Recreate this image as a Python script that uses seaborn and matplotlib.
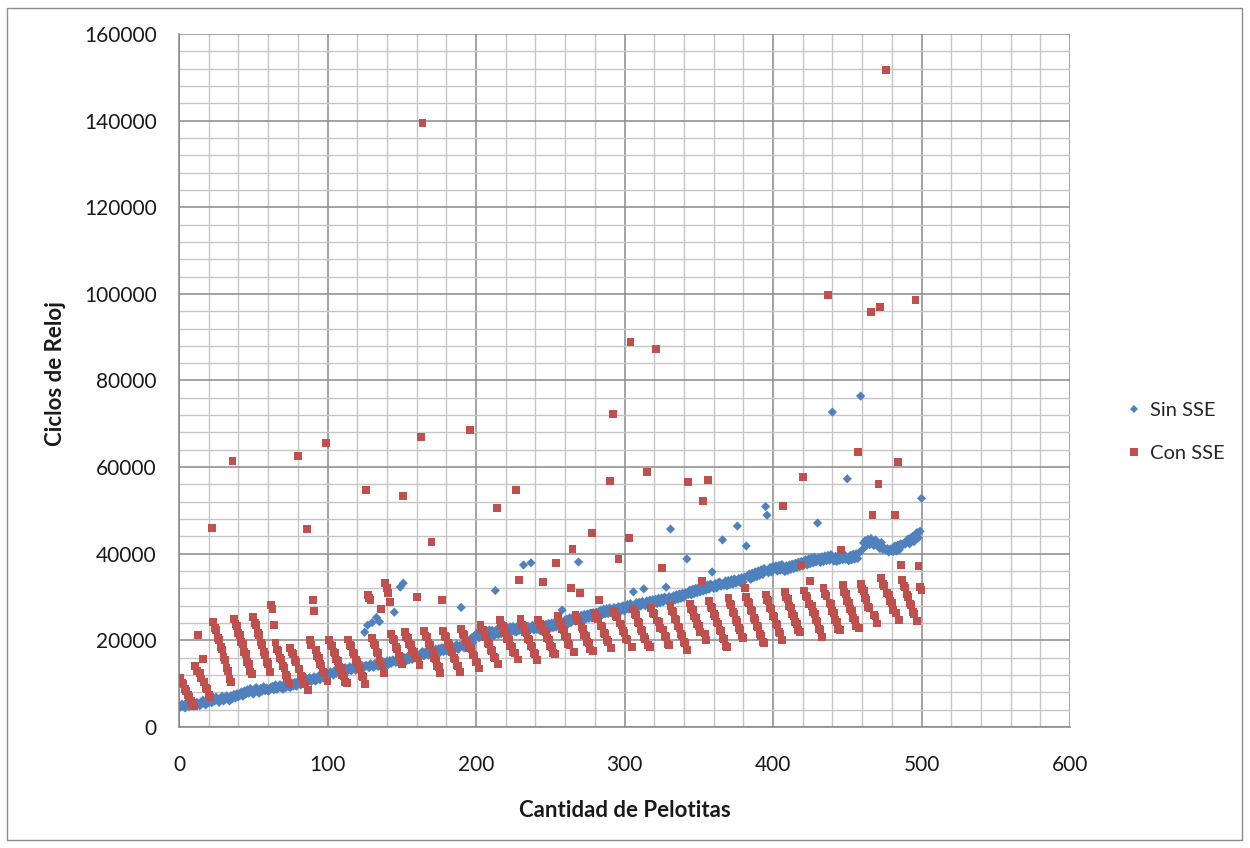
import numpy as np
import pandas as pd
import matplotlib
matplotlib.use("Agg")
import matplotlib.pyplot as plt
from matplotlib.ticker import MultipleLocator, FuncFormatter
from matplotlib.patches import Rectangle
from matplotlib.lines import Line2D
import seaborn as sns

# Número de pelotitas (1..500) y ciclos de reloj medidos para cada implementación
pelotitas = np.arange(1, 501)

sin_sse = [
    4600, 5300, 4900, 4400, 5600, 5000, 4700, 5500, 5900, 4800, 5100, 5700, 5300, 4900, 5800, 6200, 5400, 5100, 6300, 5600,
    6400, 5600, 6500, 6000, 6900, 6200, 5700, 6600, 7100, 6000, 6400, 7200, 6500, 6000, 7200, 6600, 7500, 6700, 7700, 7000,
    7300, 8100, 7100, 8300, 7600, 8600, 7800, 8900, 8100, 7600, 8700, 9100, 8100, 7800, 8900, 8300, 9300, 8400, 9000, 8300,
    8500, 9200, 9400, 8600, 9700, 8700, 9200, 9800, 9000, 8700, 9900, 9100, 10100, 9300, 9100, 10200, 9500, 10300, 9400, 10500,
    10300, 9700, 10700, 11000, 10100, 11200, 10400, 11400, 10500, 11000, 11600, 10600, 11300, 11800, 10900, 11600, 12000, 11100, 11800, 12200,
    12000, 12700, 12400, 12000, 13100, 12400, 13300, 12600, 13500, 12600, 13100, 13700, 12800, 13500, 13900, 13000, 13800, 14000, 13100, 14100,
    13600, 13200, 14300, 13500, 21900, 14300, 23500, 13700, 14600, 24100, 13800, 14700, 25300, 14000, 24300, 14900, 14100, 15000, 14200, 15200,
    14400, 15300, 14700, 15500, 26500, 14900, 15800, 14800, 32300, 15900, 33200, 16000, 15200, 16300, 15500, 16500, 15600, 16700, 15900, 16800,
    16300, 16000, 17100, 17400, 16400, 17300, 17600, 16600, 17700, 16900, 17800, 16800, 18000, 17100, 18100, 17300, 18300, 17400, 18400, 17600,
    18200, 17300, 18500, 18700, 17700, 18600, 19000, 17900, 18800, 27600, 19200, 18300, 19500, 19800, 18800, 20000, 20600, 19600, 21000, 21400,
    21700, 20600, 22000, 20900, 22200, 21100, 20800, 22100, 22400, 21200, 22300, 21000, 31500, 22500, 21300, 22600, 21500, 22800, 21700, 22700,
    22900, 21800, 23100, 22000, 23200, 22100, 21900, 23300, 22300, 23400, 22200, 37400, 23200, 22000, 23300, 22300, 37900, 23500, 22400, 23400,
    22500, 23600, 22300, 23800, 22700, 22400, 23700, 22600, 23900, 22800, 24000, 22900, 24200, 23100, 24300, 23200, 24500, 27000, 23500, 24700,
    24900, 23800, 25200, 24100, 25300, 25500, 24400, 25600, 38100, 24600, 25800, 24700, 26000, 24900, 26100, 25100, 26300, 25200, 26400, 25400,
    26500, 25500, 26700, 27000, 25900, 27200, 26100, 27300, 26200, 27500, 26400, 26100, 27600, 26500, 27400, 27800, 26600, 27700, 28000, 26800,
    28000, 28300, 27200, 28500, 27500, 31200, 27700, 28700, 27600, 28800, 27900, 29000, 31900, 28000, 29100, 28200, 29300, 28300, 29400, 28500,
    29500, 28500, 29700, 28700, 29800, 28900, 30000, 32300, 29000, 30100, 45700, 29200, 30300, 29300, 30500, 29500, 30700, 29700, 30900, 29900,
    31000, 38800, 30600, 31600, 30500, 31800, 30800, 32000, 31000, 32200, 31200, 32400, 31400, 32600, 31600, 32800, 31800, 33000, 35800, 32000,
    33100, 32100, 33300, 33500, 32500, 43200, 32700, 33700, 32600, 33800, 32900, 34000, 33000, 34200, 33200, 46400, 34300, 33300, 34500, 33500,
    34600, 41800, 34900, 35300, 34100, 35500, 34500, 35800, 34700, 36000, 35000, 36300, 35200, 36600, 50900, 48900, 35600, 36800, 35800, 37100,
    36800, 37200, 36000, 37300, 36200, 37500, 36300, 35900, 37200, 36100, 37400, 36400, 37600, 36600, 37800, 36800, 38000, 37000, 38200, 37200,
    38300, 38600, 37400, 38800, 37700, 39000, 37900, 39200, 38100, 47100, 39100, 38000, 39300, 38200, 39500, 38400, 39600, 38500, 39800, 72700,
    38300, 39400, 38200, 39600, 38500, 39700, 38600, 39800, 38700, 57300, 38400, 39600, 38600, 39900, 38800, 40000, 38900, 40200, 76400, 40900,
    42500, 43000, 41900, 43300, 42100, 43500, 42300, 41900, 43200, 42000, 42400, 41200, 42600, 41000, 41300, 40900, 41200, 40400, 41100, 40700,
    40500, 41800, 40600, 42000, 40900, 42300, 41900, 42400, 42200, 42800, 43400, 42300, 43700, 44000, 42800, 44400, 44900, 43700, 45200, 52800,
]

con_sse = [
    11300, 10200, 9900, 8800, 8300, 7300, 6900, 6000, 5600, 4900,
    14000, 12900, 21200, 12500, 11200, 15700, 10400, 9100, 8800, 7400, 6900,
    45900,
    24200, 22800, 22300, 20600, 20100, 18400, 17900, 16100, 15500, 13700, 13000, 11100, 10400,
    61400,
    25000, 23800, 23400, 21700, 21300, 19600, 19100, 17400, 16800, 15000, 14500, 12800, 12300,
    25400, 24000, 23500, 21700, 21200, 19500, 19000, 17300, 16700, 15000, 14500, 12700,
    28200, 27300, 23600, 19500, 17900, 17600, 16000, 15600, 14000, 13600, 12000, 11600, 10000,
    18300, 17200, 16900, 15400, 15100, 62600, 13300, 11800, 11500, 10000, 9800, 45700, 8500,
    20100, 18900, 29300, 26700, 17800, 16300, 16000, 14500, 14200, 12700, 12400, 65600, 10500,
    20100, 19000, 18800, 17300, 17100, 15600, 15300, 13900, 13600, 12100, 11800, 10400, 10100,
    20200, 19000, 18700, 17200, 16900, 15400, 15100, 13600, 13300, 11800, 11500, 10000,
    54700, 30500, 29700, 29300, 20600, 19300, 19000, 17300, 17000, 15300, 27200, 14100, 12500,
    33200, 32000, 30900, 28900, 21500, 20300, 20000, 18400, 18100, 16500, 16200, 14600, 53300,
    21900, 20800, 20600, 19200, 19000, 17600, 17400, 16000, 30000, 15800, 14400, 67000, 139500,
    22100, 21000, 20700, 19300, 19000, 42800, 17300, 15800, 15600, 14100, 13900, 12500, 29300,
    22100, 21000, 20700, 19300, 19000, 17600, 17300, 15900, 15600, 14200, 14000, 12600,
    22600, 21500, 21300, 19900, 19700, 18300, 68600, 18100, 16700, 16500, 15100, 14900, 13500,
    23600, 22500, 22300, 20900, 20700, 19300, 19100, 17700, 17500, 16100, 15900, 50600, 14500,
    24700, 23600, 23400, 22000, 21800, 20400, 20200, 18800, 18600, 17200, 17000, 54700, 15600,
    33900, 24900, 23500, 23300, 21900, 21700, 20300, 20100, 18700, 18500, 17100, 16900, 15500,
    24800, 23700, 23500, 33500, 22100, 21900, 20500, 20200, 18800, 18500, 17100, 16800,
    37900, 25600, 24200, 24000, 22600, 22300, 20900, 20700, 19200, 19000, 32100, 41100, 17300,
    25800, 24700, 24400, 30900, 23000, 22700, 21300, 21000, 19600, 19300, 17900, 44800, 17600,
    26300, 25200, 24900, 29300, 23400, 23200, 21700, 21400, 20000, 19700, 56800, 18200, 72300,
    26800, 25700, 25400, 38800, 23900, 23600, 22100, 21800, 20300, 20000, 43600, 88900, 18500,
    27300, 26100, 25800, 24300, 24000, 22500, 22200, 20700, 20400, 58900, 18900, 18500,
    27500, 26400, 26100, 87300, 24600, 24300, 22800, 36700, 22500, 21000, 20700, 19200, 18900,
    28000, 26800, 26500, 25000, 24700, 23200, 22900, 21400, 21100, 19600, 19300, 17800, 56600,
    28500, 27300, 27000, 25500, 25200, 23700, 23400, 21900, 33700, 52200, 21600, 20100, 57000,
    29000, 27800, 27500, 26000, 25700, 24200, 23900, 22400, 22100, 20600, 20300, 18800, 18500,
    29800, 28500, 28100, 26600, 26200, 24700, 24300, 22800, 22400, 20900, 20500, 32100,
    30100, 28900, 28600, 27000, 26700, 25200, 24800, 23300, 23000, 21400, 21100, 19600, 19300,
    30600, 29400, 29100, 27500, 27200, 25700, 25300, 23800, 23500, 21900, 21600, 20100, 51000,
    31100, 29900, 29500, 28000, 27600, 26100, 25700, 24200, 23800, 22300, 21900, 37400, 57700,
    31500, 30300, 29900, 28400, 33700, 28000, 26500, 26100, 24600, 24200, 22700, 22300, 20800,
    32000, 30700, 30300, 99700, 28700, 28300, 26700, 26300, 24700, 24300, 22700, 22300,
    40900, 32700, 31100, 30700, 29100, 28700, 27200, 26800, 25200, 24800, 23200, 63500, 22800,
    33000, 31800, 31400, 29800, 29400, 27800, 27500, 95800, 48900, 25900, 25500, 23900, 56100,
    97000, 34400, 33000, 32600, 151700, 31000, 30600, 29000, 28600, 27000, 48900, 26400, 61200, 24700,
    37400, 33900, 32600, 32200, 30600, 30100, 28500, 28100, 26500, 26000, 98600, 24400, 37200,
    32300, 31600,
]

series = ["Sin SSE", "Con SSE"]
colores = {"Sin SSE": "#4F81BD", "Con SSE": "#C0504D"}
marcadores = {"Sin SSE": "D", "Con SSE": "s"}
tamanios = {"Sin SSE": 22, "Con SSE": 32}

df = pd.DataFrame({
    "Cantidad de Pelotitas": np.concatenate([pelotitas, pelotitas]),
    "Ciclos de Reloj": sin_sse + con_sse,
    "Serie": ["Sin SSE"] * len(sin_sse) + ["Con SSE"] * len(con_sse),
})

sns.set_style("white")
plt.rcParams["font.family"] = ["Lato", "DejaVu Sans"]

fig = plt.figure(figsize=(12.5, 8.48), dpi=100)
ax = fig.add_axes([179 / 1250, 1 - 727 / 848, 891 / 1250, 693 / 848])

sns.scatterplot(
    data=df, x="Cantidad de Pelotitas", y="Ciclos de Reloj",
    hue="Serie", style="Serie", size="Serie",
    palette=colores, markers=marcadores, sizes=tamanios,
    linewidth=0, legend=False, ax=ax, zorder=3,
)

ax.set_xlim(0, 600)
ax.set_ylim(0, 160000)
ax.xaxis.set_major_locator(MultipleLocator(100))
ax.xaxis.set_minor_locator(MultipleLocator(20))
ax.yaxis.set_major_locator(MultipleLocator(20000))
ax.yaxis.set_minor_locator(MultipleLocator(4000))
ax.yaxis.set_major_formatter(FuncFormatter(lambda v, p: f"{int(v)}"))

ax.grid(which="minor", color="#c6c6c6", linewidth=1.0, zorder=0)
ax.grid(which="major", color="#8a8a8a", linewidth=1.1, zorder=1)
ax.set_axisbelow(True)

for lado in ["top", "right"]:
    ax.spines[lado].set_visible(False)
for lado in ["left", "bottom"]:
    ax.spines[lado].set_color("#868686")
    ax.spines[lado].set_linewidth(1.1)

ax.tick_params(which="major", axis="both", length=6, width=1.1, color="#868686",
               labelsize=15, labelcolor="#1a1a1a", direction="out")
ax.tick_params(which="major", axis="y", pad=10)
ax.tick_params(which="major", axis="x", pad=14)
ax.tick_params(which="minor", length=0)

ax.set_xlabel("Cantidad de Pelotitas", fontsize=16, fontweight="bold", color="#1a1a1a")
ax.set_ylabel("Ciclos de Reloj", fontsize=16, fontweight="bold", color="#1a1a1a")
ax.xaxis.set_label_coords(0.5, -0.121)
ax.xaxis.label.set_va("center")
ax.yaxis.set_label_coords(-0.139, 0.51)
ax.yaxis.label.set_va("center")

manijas = [
    Line2D([], [], linestyle="", marker=marcadores[s], color=colores[s],
           markersize=4.5 if s == "Sin SSE" else 5.5, markeredgewidth=0)
    for s in series
]
ax.legend(manijas, series, loc="center left", bbox_to_anchor=(1.043, 0.426),
          frameon=False, fontsize=14.5, labelspacing=1.3, handlelength=0.8,
          handletextpad=0.35)

fig.patches.append(Rectangle((7 / 1250, 1 - 840 / 848), 1235 / 1250, 832 / 848,
                             transform=fig.transFigure, fill=False,
                             edgecolor="#8c8c8c", linewidth=1.0))

fig.savefig("out.png", dpi=100)
